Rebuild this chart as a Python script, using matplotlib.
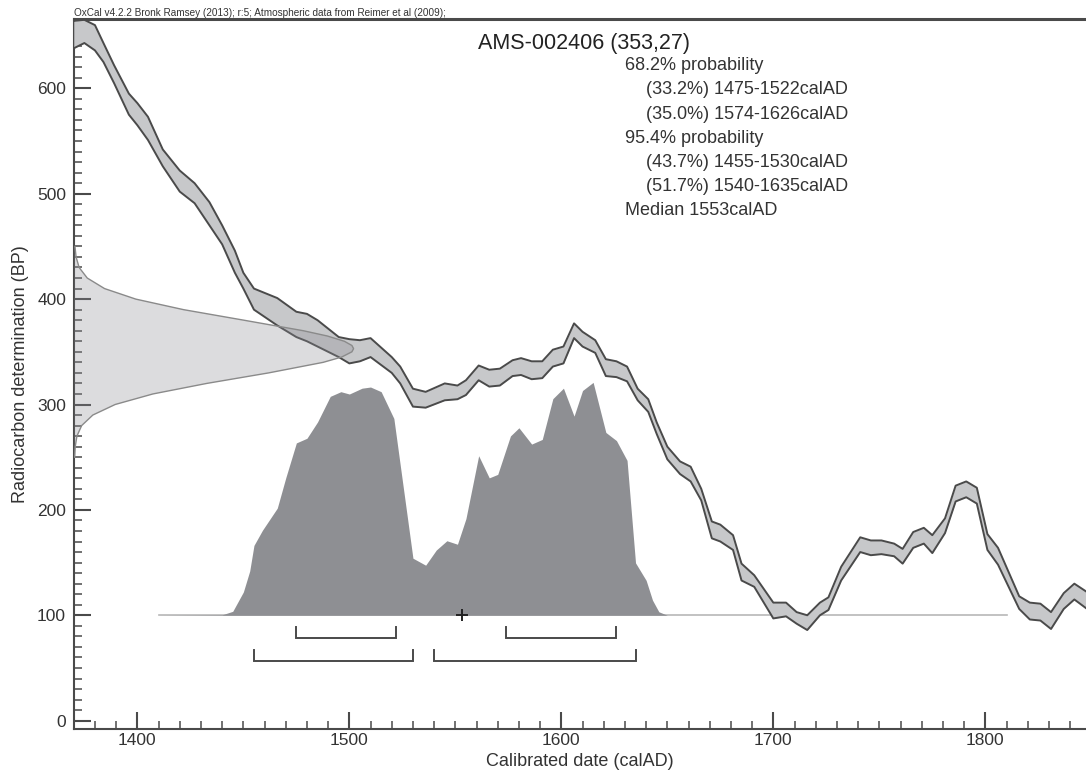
import matplotlib
matplotlib.use("Agg")
import matplotlib.pyplot as plt
import numpy as np

plt.rcParams['font.family'] = ['Liberation Sans', 'DejaVu Sans']

# ---- calibration curve (IntCal09 band) ----
curve_years = [1370, 1375, 1380, 1384, 1389, 1396, 1400, 1405, 1412, 1420, 1427, 1434,
               1440, 1446, 1450, 1455, 1466, 1475, 1480, 1485, 1495, 1500, 1505, 1510,
               1520, 1524, 1530, 1536, 1545, 1551, 1555, 1561, 1566, 1571, 1577, 1581,
               1586, 1591, 1596, 1601, 1606, 1610, 1616, 1621, 1626, 1631, 1636, 1641,
               1645, 1650, 1656, 1661, 1666, 1671, 1675, 1681, 1685, 1691, 1700, 1706,
               1711, 1716, 1722, 1726, 1732, 1741, 1746, 1751, 1757, 1761, 1766, 1771,
               1775, 1781, 1786, 1791, 1796, 1801, 1806, 1816, 1821, 1826, 1831, 1837,
               1842, 1848]
curve_upper = [664, 665, 660, 643, 622, 595, 586, 573, 542, 522, 510, 492,
               470, 446, 425, 410, 401, 388, 386, 380, 364, 362, 361, 363,
               345, 336, 315, 312, 320, 318, 323, 337, 333, 334, 342, 344,
               341, 341, 352, 355, 377, 369, 361, 343, 341, 336, 315, 305,
               283, 260, 246, 241, 220, 189, 186, 176, 149, 138, 112, 112,
               103, 100, 112, 117, 146, 174, 171, 171, 168, 163, 179, 183,
               176, 192, 223, 227, 221, 177, 164, 118, 112, 111, 103, 121,
               130, 122]
curve_lower = [638, 643, 636, 625, 605, 575, 565, 551, 526, 502, 491, 470,
               452, 425, 410, 390, 375, 364, 360, 355, 345, 339, 341, 345,
               330, 320, 298, 297, 304, 305, 309, 323, 317, 318, 327, 328,
               324, 325, 336, 339, 363, 355, 349, 327, 326, 322, 304, 293,
               272, 248, 234, 227, 209, 173, 170, 162, 133, 127, 97, 99,
               92, 86, 100, 105, 133, 160, 157, 158, 156, 149, 164, 168,
               159, 178, 208, 212, 206, 162, 148, 106, 96, 95, 87, 106,
               115, 106]

# ---- radiocarbon likelihood (353 +/- 27 BP), relative density ----
like_bp = [250, 260, 270, 280, 290, 300, 310, 320, 330, 340, 345, 350, 353,
           356, 360, 365, 370, 380, 390, 400, 410, 420, 430, 440, 450]
like_dens = [0.001, 0.003, 0.009, 0.026, 0.066, 0.146, 0.281, 0.474, 0.696, 0.891,
             0.957, 0.994, 1.0, 0.994, 0.967, 0.906, 0.820, 0.607, 0.391, 0.220,
             0.108, 0.046, 0.017, 0.006, 0.002]

# ---- calibrated posterior distribution (relative probability) ----
post_years = [1410, 1440, 1445, 1450, 1453, 1455, 1459, 1466, 1470, 1475, 1480, 1485,
              1491, 1496, 1500, 1506, 1510, 1515, 1521, 1524, 1530, 1536, 1541, 1546,
              1551, 1555, 1561, 1566, 1570, 1576, 1580, 1586, 1591, 1596, 1601, 1606,
              1610, 1615, 1621, 1626, 1631, 1635, 1640, 1643, 1646, 1650, 1810]
post_prob = [0.0, 0.002, 0.017, 0.10, 0.19, 0.30, 0.365, 0.46, 0.59, 0.74, 0.76, 0.83,
             0.94, 0.96, 0.95, 0.975, 0.98, 0.96, 0.845, 0.645, 0.245, 0.215, 0.28, 0.32,
             0.305, 0.415, 0.685, 0.59, 0.605, 0.77, 0.805, 0.735, 0.755, 0.93, 0.975, 0.855,
             0.965, 1.0, 0.785, 0.75, 0.665, 0.225, 0.15, 0.065, 0.015, 0.0, 0.0]

# ---- ranges ----
r68 = [(1475, 1522), (1574, 1626)]
r95 = [(1455, 1530), (1540, 1635)]
median = 1553

header = "OxCal v4.2.2 Bronk Ramsey (2013); r:5; Atmospheric data from Reimer et al (2009);"
title = "AMS-002406 (353,27)"
info_lines = [("68.2% probability", 0),
              ("(33.2%) 1475-1522calAD", 1),
              ("(35.0%) 1574-1626calAD", 1),
              ("95.4% probability", 0),
              ("(43.7%) 1455-1530calAD", 1),
              ("(51.7%) 1540-1635calAD", 1),
              ("Median 1553calAD", 0)]

W, H = 1086, 773
fig = plt.figure(figsize=(W / 100, H / 100), dpi=100)
ax_l, ax_b, ax_t = 74.4 / W, (H - 729.3) / H, (H - 19) / H
ax = fig.add_axes([ax_l, ax_b, 1 - ax_l, ax_t - ax_b])

XMIN, XMAX = 1370.3, 1847.5
YMIN, YMAX = -8.2, 665.8
ax.set_xlim(XMIN, XMAX)
ax.set_ylim(YMIN, YMAX)

dark = '#4a4a4a'
text_c = '#333333'

# baseline of posterior
ax.plot([post_years[0], post_years[-1]], [100, 100], color='#b8b8b8', lw=1.2, zorder=2)

# posterior
post_scale = 221
py = 100 + np.array(post_prob) * post_scale
ax.fill_between(post_years, 100, py, color='#8e8f93', lw=0, zorder=3)

# calibration band
ax.fill_between(curve_years, curve_lower, curve_upper, color='#c7c8ca', lw=0, zorder=4)
ax.plot(curve_years, curve_upper, color=dark, lw=1.4, zorder=5)
ax.plot(curve_years, curve_lower, color=dark, lw=1.4, zorder=5)

# likelihood on the y axis
like_width = 131.7
lx = XMIN + np.array(like_dens) * like_width
ax.fill_betweenx(like_bp, XMIN, lx, facecolor=(0.55, 0.55, 0.58, 0.30),
                 edgecolor='none', zorder=6)
ax.plot(lx, like_bp, color='#8a8a8a', lw=1.0, zorder=6)

# range brackets
def bracket(a, b, y, h):
    ax.plot([a, a, b, b], [y + h, y, y, y + h], color=dark, lw=1.4,
            solid_joinstyle='miter', zorder=7)

for a, b in r68:
    bracket(a, b, 78, 11)
for a, b in r95:
    bracket(a, b, 56.5, 11)

# median cross
ax.plot([median], [100], marker='+', ms=9, mew=1.4, color='#222222', zorder=8)

# axes styling
for s in ['left', 'bottom', 'top']:
    ax.spines[s].set_color(dark)
ax.spines['left'].set_linewidth(1.5)
ax.spines['bottom'].set_linewidth(1.5)
ax.spines['top'].set_linewidth(2.2)
ax.spines['right'].set_visible(False)

ax.set_xticks([1400, 1500, 1600, 1700, 1800])
ax.set_xticks(np.arange(1380, 1850, 10), minor=True)
ax.set_yticks([0, 100, 200, 300, 400, 500, 600])
ax.set_yticks(np.arange(0, 661, 10), minor=True)
ax.tick_params(which='both', direction='in', color=dark, labelcolor=text_c,
               labelsize=12.5, top=False, right=False)
ax.tick_params(which='major', length=12, width=1.5)
ax.tick_params(which='minor', length=6, width=1.1)
ax.tick_params(axis='y', pad=6)
ax.tick_params(axis='x', pad=3)

ax.set_xlabel("Calibrated date (calAD)", fontsize=13, color=text_c, labelpad=3)
ax.set_ylabel("Radiocarbon determination (BP)", fontsize=13, color=text_c, labelpad=6)

# header and info text
fig.text(74.4 / W, 1 - 13 / H, header, fontsize=7.2, color=text_c, va='center', ha='left')
fig.text(477.5 / W, 1 - 43.3 / H, title, fontsize=15.5, color='#222222', va='center', ha='left')
line_y0, dy = 65.7, 24.2
for i, (txt, ind) in enumerate(info_lines):
    x = 625 if ind == 0 else 645.8
    fig.text(x / W, 1 - (line_y0 + i * dy) / H, txt, fontsize=13, color=text_c,
             va='center', ha='left')

fig.savefig("out.png", dpi=100)
